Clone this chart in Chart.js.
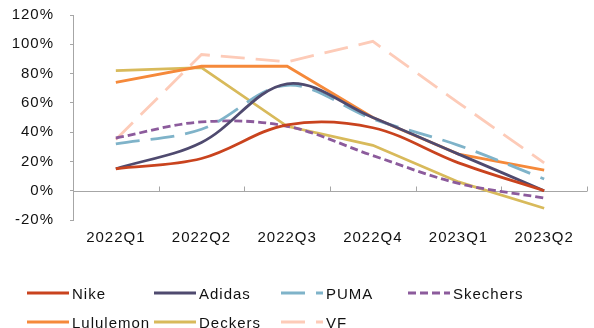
<!DOCTYPE html>
<html>
<head>
<meta charset="utf-8">
<script src="https://cdn.jsdelivr.net/npm/chart.js@4.4.1/dist/chart.umd.min.js"></script>
<style>
  html, body { margin: 0; padding: 0; background: #fff; }
  #wrap { position: relative; width: 594px; height: 328px; }
  #legend { position: absolute; left: 0; top: 0; width: 594px; height: 328px; pointer-events: none;
    font-family: "Liberation Sans", Arial, sans-serif; font-size: 15px; letter-spacing: 1px; color: #111; }
  .item { position: absolute; display: flex; align-items: center; height: 18px; white-space: nowrap; }
  .item svg { margin-right: 3px; }
</style>
</head>
<body>
<div id="wrap">
  <canvas id="growthChart" width="594" height="328"></canvas>
  <div id="legend"></div>
</div>
<script>
"use strict";

// 季度 & 各品牌同比增速(%)
const quarters = ['2022Q1', '2022Q2', '2022Q3', '2022Q4', '2023Q1', '2023Q2'];
const nike      = [15, 22, 45, 43, 19, 0];
const adidas    = [15, 33, 73, 50, 25, 0];
const puma      = [32, 42, 72, 49, 31, 8];
const skechers  = [36, 47, 44, 24, 5, -5];
const lululemon = [74, 85, 85, 50, 25, 14];
const deckers   = [82, 84, 44, 31, 6, -12];
const vf        = [35, 93, 88, 102, 60, 19];

const FONT = '"Liberation Sans", Arial, sans-serif';
const AXIS_GRAY = '#a6a6a6';

function series(label, data, color, dash, tension) {
  return {
    label: label,
    data: data,
    borderColor: color,
    backgroundColor: color,
    borderWidth: 2.8,
    borderDash: dash,
    tension: tension,
    pointRadius: 0,
    fill: false
  };
}

// canvas 크기 재설정 시 letterSpacing 이 초기화되므로 매번 다시 지정
const spacingPlugin = {
  id: 'spacing',
  beforeLayout(chart) { chart.ctx.letterSpacing = '1px'; },
  beforeDraw(chart) { chart.ctx.letterSpacing = '1px'; }
};

// 0% 기준선 + 분기 경계 눈금
const zeroAxisPlugin = {
  id: 'zeroAxis',
  beforeDatasetsDraw(chart) {
    const x = chart.scales.x, y = chart.scales.y, ctx = chart.ctx;
    const area = chart.chartArea;
    const y0 = Math.round(y.getPixelForValue(0)) + 0.5;
    ctx.save();
    ctx.strokeStyle = AXIS_GRAY;
    ctx.lineWidth = 1;
    ctx.beginPath();
    ctx.moveTo(area.left, y0);
    ctx.lineTo(area.right, y0);
    for (let i = 0; i <= quarters.length; i++) {
      let px;
      if (i === 0) px = area.left;
      else if (i === quarters.length) px = area.right;
      else px = (x.getPixelForValue(i - 1) + x.getPixelForValue(i)) / 2;
      px = Math.round(px) + 0.5;
      ctx.moveTo(px, y0);
      ctx.lineTo(px, y0 - 5);
    }
    ctx.stroke();
    ctx.restore();
  }
};

const chart = new Chart(document.getElementById('growthChart').getContext('2d'), {
  type: 'line',
  data: {
    labels: quarters,
    datasets: [
      series('Nike', nike, '#c9431e', [], 0.35),
      series('Adidas', adidas, '#4f4a6f', [], 0.35),
      series('PUMA', puma, '#7fb3c9', [24, 11], 0.35),
      series('Skechers', skechers, '#8c5b9c', [8, 4], 0.35),
      series('Lululemon', lululemon, '#f5893a', [], 0),
      series('Deckers', deckers, '#d8ba5b', [], 0),
      series('VF', vf, '#fdcbb8', [24, 11], 0)
    ]
  },
  options: {
    responsive: false,
    animation: false,
    layout: { padding: { top: 15, right: 7, left: 0, bottom: 0 } },
    plugins: {
      legend: { display: false },
      tooltip: { enabled: false }
    },
    scales: {
      x: {
        offset: true,
        grid: { display: false, drawTicks: false },
        border: { display: false },
        ticks: { color: '#111', padding: 9, font: { family: FONT, size: 15 } },
        afterFit(scale) { scale.height = 108; }
      },
      y: {
        min: -20,
        max: 120,
        ticks: {
          stepSize: 20,
          color: '#111',
          padding: 16,
          font: { family: FONT, size: 15 },
          callback: v => v + '%'
        },
        grid: { drawOnChartArea: false, drawTicks: true, tickLength: 3, color: AXIS_GRAY },
        border: { display: true, color: AXIS_GRAY, width: 1 },
        afterFit(scale) {
          scale.width = 73;
          scale.paddingTop = 0;
          scale.paddingBottom = 0;
        }
      }
    }
  },
  plugins: [spacingPlugin, zeroAxisPlugin]
});

// 범례: 4열 2행 고정 배치
const legendEl = document.getElementById('legend');
chart.data.datasets.forEach((ds, i) => {
  const col = i % 4, row = Math.floor(i / 4);
  const item = document.createElement('div');
  item.className = 'item';
  item.style.left = (27 + col * 127) + 'px';
  item.style.top = (284 + row * 29) + 'px';
  const dash = ds.borderDash.length ? ds.borderDash.join(',') : 'none';
  item.innerHTML =
    '<svg width="42" height="6"><line x1="0" y1="3" x2="42" y2="3" stroke="' + ds.borderColor +
    '" stroke-width="3" stroke-dasharray="' + dash + '"/></svg><span>' + ds.label + '</span>';
  legendEl.appendChild(item);
});
</script>
</body>
</html>
